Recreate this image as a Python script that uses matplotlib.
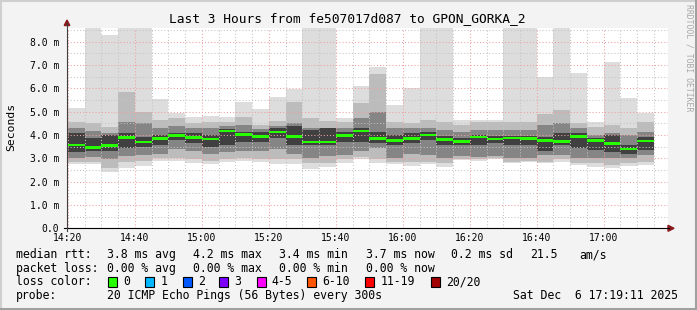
import matplotlib
matplotlib.use("Agg")
import matplotlib.pyplot as plt
from matplotlib.patches import Rectangle, Polygon
from matplotlib.lines import Line2D

# ---------------- data ----------------
title = "Last 3 Hours from fe507017d087 to GPON_GORKA_2"
slot_start = ["14:15", "14:20", "14:25", "14:30", "14:35", "14:40", "14:45", "14:50",
              "14:55", "15:00", "15:05", "15:10", "15:15", "15:20", "15:25", "15:30",
              "15:35", "15:40", "15:45", "15:50", "15:55", "16:00", "16:05", "16:10",
              "16:15", "16:20", "16:25", "16:30", "16:35", "16:40", "16:45", "16:50",
              "16:55", "17:00", "17:05", "17:10"]
slot_minutes = 5

median = [3.67, 3.57, 3.46, 3.54, 3.88, 3.70, 3.84, 3.97, 3.88, 3.83, 4.17, 4.01,
          3.93, 4.13, 3.94, 3.70, 3.70, 3.96, 4.17, 3.86, 3.77, 3.86, 4.00, 3.80,
          3.71, 3.91, 3.83, 3.87, 3.86, 3.75, 3.73, 3.94, 3.75, 3.63, 3.40, 3.74]
ping_max = [5.00, 5.14, 9.50, 8.29, 9.50, 9.50, 5.54, 4.95, 4.78, 4.83, 4.78, 5.43,
            5.11, 5.64, 5.96, 9.50, 9.50, 4.74, 6.10, 6.93, 5.28, 6.00, 9.50, 9.50,
            4.66, 4.65, 4.65, 9.50, 9.50, 6.48, 9.50, 6.67, 4.57, 7.14, 5.60, 4.93]
ping_min = [2.75, 2.74, 2.74, 2.40, 2.60, 2.68, 2.87, 2.90, 2.79, 2.74, 2.84, 2.87,
            2.86, 2.76, 2.76, 2.56, 2.61, 2.81, 2.95, 2.79, 2.74, 2.68, 2.74, 2.64,
            2.93, 2.90, 2.96, 2.79, 2.83, 2.79, 2.86, 2.70, 2.64, 2.58, 2.68, 2.70]
outer_hi = [4.50, 4.57, 4.50, 4.36, 5.86, 5.00, 4.64, 4.71, 4.50, 4.55, 4.55, 4.78,
            4.43, 4.60, 5.43, 4.71, 4.60, 4.57, 5.38, 6.61, 4.57, 4.50, 4.64, 4.57,
            4.43, 4.57, 4.57, 4.57, 4.57, 4.89, 5.07, 4.50, 4.35, 4.43, 4.28, 4.57]
outer_lo = [2.85, 2.82, 2.85, 2.60, 2.85, 2.90, 3.00, 3.00, 2.95, 2.90, 2.95, 3.00,
            2.95, 2.95, 2.95, 2.78, 2.80, 2.95, 3.05, 2.95, 2.85, 2.85, 2.85, 2.78,
            2.98, 2.95, 3.00, 2.85, 2.90, 2.85, 2.95, 2.78, 2.78, 2.71, 2.80, 2.85]
mid_hi = [4.25, 4.29, 4.15, 4.10, 4.57, 4.50, 4.30, 4.40, 4.30, 4.30, 4.40, 4.43,
          4.25, 4.40, 4.50, 4.29, 4.30, 4.29, 4.71, 4.98, 4.30, 4.30, 4.30, 4.20,
          4.14, 4.20, 4.20, 4.20, 4.20, 4.43, 4.50, 4.28, 4.00, 4.07, 3.99, 4.14]
mid_lo = [3.05, 3.00, 3.05, 2.95, 3.10, 3.15, 3.20, 3.40, 3.30, 3.20, 3.25, 3.30,
          3.30, 3.40, 3.20, 3.00, 3.10, 3.14, 3.30, 3.43, 3.00, 3.20, 3.14, 3.00,
          3.10, 3.05, 3.10, 3.00, 3.00, 3.14, 3.14, 3.00, 3.00, 3.00, 3.00, 3.14]
core_hi = [4.00, 4.07, 3.86, 4.00, 4.07, 3.93, 4.00, 4.07, 4.07, 4.00, 4.24, 4.14,
           4.14, 4.28, 4.40, 4.20, 4.28, 4.14, 4.29, 4.14, 4.00, 4.07, 4.14, 3.95,
           3.85, 4.00, 3.95, 3.95, 3.95, 3.90, 4.07, 4.10, 3.85, 3.99, 3.55, 3.92]
core_lo = [3.35, 3.29, 3.30, 3.30, 3.43, 3.50, 3.57, 3.78, 3.64, 3.50, 3.57, 3.71,
           3.71, 3.85, 3.57, 3.57, 3.57, 3.71, 3.71, 3.64, 3.57, 3.64, 3.78, 3.57,
           3.55, 3.57, 3.64, 3.57, 3.57, 3.30, 3.57, 3.43, 3.35, 3.28, 3.20, 3.35]

x_tick_labels = ["14:20", "14:40", "15:00", "15:20", "15:40", "16:00", "16:20", "16:40", "17:00"]
y_tick_values = [0, 1, 2, 3, 4, 5, 6, 7, 8]
y_tick_labels = ["0.0", "1.0 m", "2.0 m", "3.0 m", "4.0 m", "5.0 m", "6.0 m", "7.0 m", "8.0 m"]

loss_labels = ["0", "1", "2", "3", "4-5", "6-10", "11-19", "20/20"]
loss_colors = ["#26ff00", "#00b8ff", "#0059ff", "#7e00ff", "#ff00ff", "#ff5500", "#ff0000", "#a10000"]

# ---------------- figure ----------------
W, H = 697, 310
MONO = "DejaVu Sans Mono"
plt.rcParams["font.family"] = [MONO, "DejaVu Sans"]

fig = plt.figure(figsize=(W / 100, H / 100), dpi=100, facecolor="#f3f3f3")


def fx(px):
    return px / W


def fy(py):
    return 1 - py / H


def hm(s):
    h, m = s.split(":")
    return int(h) * 60 + int(m) - (14 * 60 + 20)


x0 = [hm(s) for s in slot_start]
n = len(x0)

ax = fig.add_axes([fx(67), fy(228.3), 601 / W, 200 / H])
ax.set_facecolor("white")
ax.set_xlim(-0.3, 179.2)
ax.set_ylim(0, 8.57)

layers = [(ping_min, ping_max, "#dddddd"),
          (outer_lo, outer_hi, "#bcbcbc"),
          (mid_lo, mid_hi, "#858585"),
          (core_lo, core_hi, "#404040")]
for lo, hi, c in layers:
    ax.bar(x0, [h - l for l, h in zip(lo, hi)], bottom=lo, width=slot_minutes,
           align="edge", color=c, linewidth=0, zorder=1)

band = 0.12
ax.bar(x0, [band] * n, bottom=[m - band / 2 for m in median], width=slot_minutes,
       align="edge", color=loss_colors[0], linewidth=0, zorder=4)

# grid
major_x = [hm(s) for s in x_tick_labels]
minor_x = list(range(0, 180, 5))
ax.set_xticks(major_x)
ax.set_xticklabels(x_tick_labels)
ax.set_xticks(minor_x, minor=True)
ax.set_yticks(y_tick_values)
ax.set_yticklabels(y_tick_labels)
ax.set_yticks([v + 0.5 for v in y_tick_values], minor=True)
ax.grid(which="major", color="#f0a0a0", linestyle=(0, (1, 2)), linewidth=0.75)
ax.grid(which="minor", color="#c4c4c4", linestyle=(0, (1, 2)), linewidth=0.75)
ax.set_axisbelow(False)
ax.tick_params(which="both", length=0)
ax.tick_params(axis="y", pad=5.5, labelsize=7)
ax.tick_params(axis="x", pad=3.2, labelsize=7)
for s in ax.spines.values():
    s.set_visible(False)

# axes lines and arrows
fig.add_artist(Line2D([fx(64), fx(669)], [fy(228.3), fy(228.3)], color="black", lw=0.8))
fig.add_artist(Line2D([fx(67), fx(67)], [fy(230.5), fy(23)], color="#404040", lw=0.8))
fig.add_artist(Polygon([(fx(668), fy(225.3)), (fx(668), fy(231.3)), (fx(674), fy(228.3))],
                       closed=True, color="#8b1a1a", transform=fig.transFigure))
fig.add_artist(Polygon([(fx(64.2), fy(25.5)), (fx(69.8), fy(25.5)), (fx(67), fy(20))],
                       closed=True, color="#8b1a1a", transform=fig.transFigure))

# titles
fig.text(fx(347.7), fy(19), title, ha="center", va="center", fontsize=9.3, color="black")
fig.text(fx(11), fy(127), "Seconds", rotation=90, ha="center", va="center", fontsize=8.2)
fig.text(fx(688.5), fy(4), "RRDTOOL / TOBI OETIKER", rotation=270, ha="center", va="top",
         fontsize=5.9, color="#a8a8a8")

# legend rows
LS = 8.3
rows = [
    (258.0, [(16, "median rtt:"), (107.3, "3.8 ms avg"), (193.3, "4.2 ms max"),
             (279, "3.4 ms min"), (365.7, "3.7 ms now"), (451, "0.2 ms sd"),
             (530.3, "21.5"), (579.3, "am/s")]),
    (271.7, [(16, "packet loss:"), (107.3, "0.00 % avg"), (193.3, "0.00 % max"),
             (279, "0.00 % min"), (365.7, "0.00 % now")]),
    (285.3, [(16, "loss color:")]),
    (299.0, [(16, "probe:"), (107.3, "20 ICMP Echo Pings (56 Bytes) every 300s"),
             (513.3, "Sat Dec  6 17:19:11 2025")]),
]
for y, items in rows:
    for x, t in items:
        fig.text(fx(x), fy(y), t, ha="left", va="baseline", fontsize=LS, color="black")

swatch_x = [108.3, 145.3, 182.7, 219.3, 256.7, 307.3, 365.3, 431.0]
for sx, lab, col in zip(swatch_x, loss_labels, loss_colors):
    fig.add_artist(Rectangle((fx(sx), fy(286.5)), 9 / W, 9.5 / H, transform=fig.transFigure,
                             facecolor=col, edgecolor="black", linewidth=0.8))
    fig.text(fx(sx + 15), fy(285.3), lab, ha="left", va="baseline", fontsize=LS)

# 3D frame
fig.add_artist(Line2D([0, 1], [fy(1), fy(1)], color="#cfcfcf", lw=1.5))
fig.add_artist(Line2D([fx(1), fx(1)], [0, 1], color="#cfcfcf", lw=1.5))
fig.add_artist(Line2D([0, 1], [fy(308.5), fy(308.5)], color="#a0a0a0", lw=2.2))
fig.add_artist(Line2D([fx(695.5), fx(695.5)], [0, 1], color="#a0a0a0", lw=2.2))

fig.savefig("out.png", dpi=100, facecolor=fig.get_facecolor())
